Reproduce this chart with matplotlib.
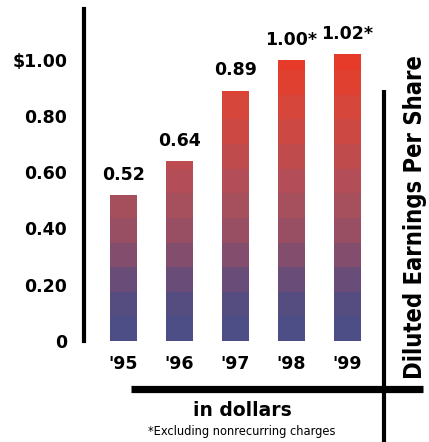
import matplotlib
matplotlib.use("Agg")
import matplotlib.pyplot as plt
from matplotlib.colors import LinearSegmentedColormap
from matplotlib.lines import Line2D
import numpy as np

# Data
years = ["'95", "'96", "'97", "'98", "'99"]
eps = [0.52, 0.64, 0.89, 1.00, 1.02]
value_labels = ["0.52", "0.64", "0.89", "1.00*", "1.02*"]
yticks = [0, 0.20, 0.40, 0.60, 0.80, 1.00]
ytick_labels = ["0", "0.20", "0.40", "0.60", "0.80", "$1.00"]

W, H = 429, 442
fig = plt.figure(figsize=(W / 100, H / 100), dpi=100)

# axes placed in pixel terms: x 84..383, y 9..341
ax = fig.add_axes([84 / W, (H - 341) / H, (383 - 84) / W, (341 - 9) / H])
ax.set_xlim(-0.705, 4.634)
ax.set_ylim(0, 1.18)

cmap = LinearSegmentedColormap.from_list(
    "eps_grad",
    [(0.0, "#494f88"), (0.13, "#554d80"), (0.22, "#6a4c78"), (0.31, "#844d6e"),
     (0.40, "#9a4f62"), (0.50, "#a84f5c"), (0.60, "#b84c55"), (0.72, "#c84a45"),
     (0.85, "#d84538"), (1.0, "#e83a28")])

band = 0.0875
width = 0.49
for i, v in enumerate(eps):
    lo = 0.0
    while lo < v - 1e-9:
        hi = min(lo + band, v)
        c = cmap(min((lo + hi) / 2 / 1.0, 1.0))
        ax.bar(i, hi - lo, bottom=lo, width=width, color=c, linewidth=0)
        lo = hi
    ax.annotate(value_labels[i], (i, v), xytext=(0, 8), textcoords="offset points",
                ha="center", va="bottom", fontsize=12.5, fontweight="bold",
                color="black")

for s in ["top", "right", "bottom"]:
    ax.spines[s].set_visible(False)
ax.spines["left"].set_linewidth(3)
ax.spines["left"].set_color("black")

ax.set_yticks(yticks)
ax.set_yticklabels(ytick_labels, fontsize=12.5, fontweight="bold")
ax.tick_params(axis="y", length=0, pad=12)
ax.set_xticks(range(len(years)))
ax.set_xticklabels(years, fontsize=12.5, fontweight="bold")
ax.tick_params(axis="x", length=0, pad=10)

# frame lines
fig.add_artist(Line2D([131 / W, 423 / W], [(H - 389) / H] * 2, color="black",
                      linewidth=5.2, solid_capstyle="butt"))
fig.add_artist(Line2D([384 / W] * 2, [(H - 90) / H, 0], color="black",
                      linewidth=3, solid_capstyle="butt"))

fig.text(242 / W, (H - 410) / H, "in dollars", ha="center", va="center",
         fontsize=13.5, fontweight="bold")
fig.text(242 / W, (H - 431) / H, "*Excluding nonrecurring charges", ha="center",
         va="center", fontsize=9.2, family="DejaVu Sans", stretch="condensed")
fig.text(415 / W, (H - 217) / H, "Diluted Earnings Per Share", ha="center",
         va="center", rotation=90, fontsize=17, fontweight="bold",
         family="DejaVu Sans", stretch="condensed")

fig.savefig("out.png", dpi=100, facecolor="white")
